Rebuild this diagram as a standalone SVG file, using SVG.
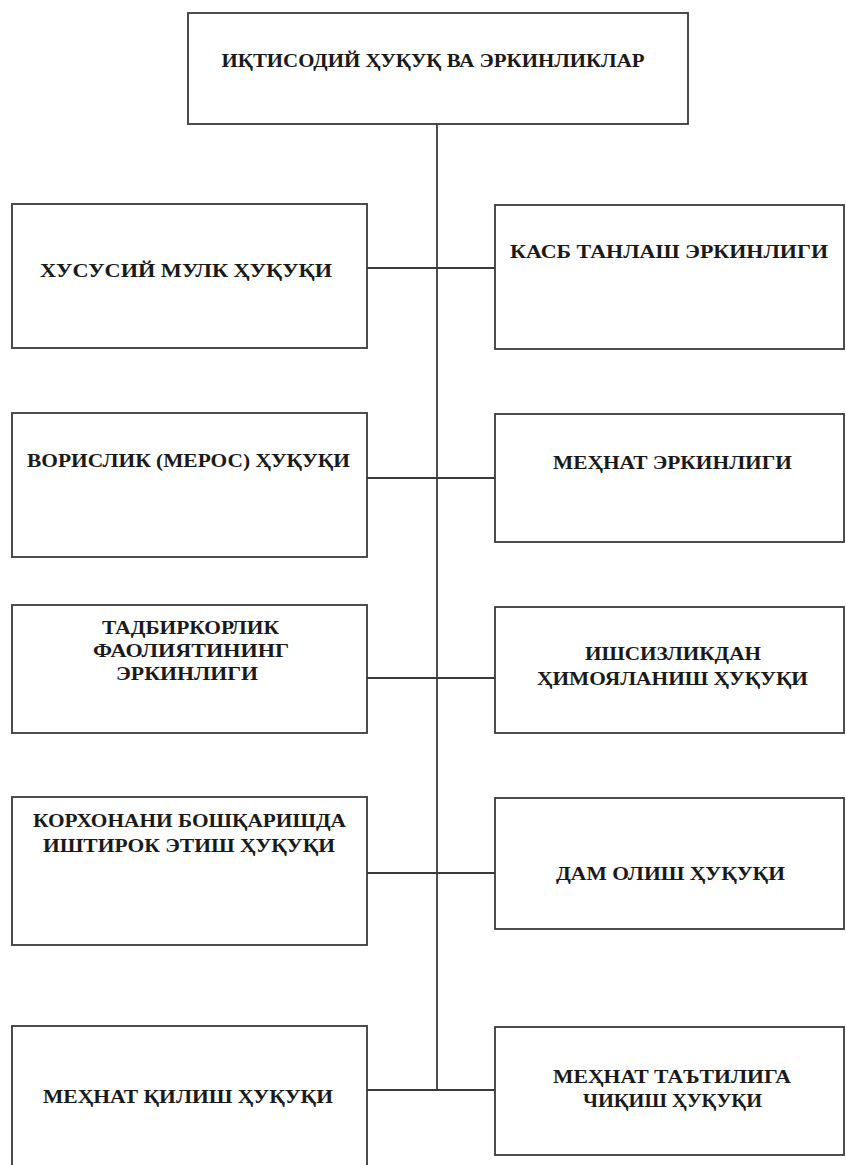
<svg xmlns="http://www.w3.org/2000/svg" width="846" height="1165" viewBox="0 0 846 1165">
<style>
.box{fill:#fff;stroke:#3a3a3a;stroke-width:1.8}
.ln{stroke:#3a3a3a;stroke-width:1.8;fill:none}
.t{font-family:"Liberation Serif","Times New Roman",serif;font-weight:bold;font-size:19px;fill:#1a1a1a;text-anchor:middle}
</style>
<rect width="846" height="1165" fill="#fff"/>
<g id="connectors">
<line class="ln" x1="437" y1="124" x2="437" y2="1090"/>
<line class="ln" x1="367" y1="268" x2="495" y2="268"/>
<line class="ln" x1="367" y1="478" x2="495" y2="478"/>
<line class="ln" x1="367" y1="678" x2="495" y2="678"/>
<line class="ln" x1="367" y1="873" x2="495" y2="873"/>
<line class="ln" x1="367" y1="1090" x2="495" y2="1090"/>
</g>
<g id="root">
<rect class="box" x="188" y="13" width="500" height="111"/>
<text class="t" x="433" y="67" textLength="423" lengthAdjust="spacingAndGlyphs">ИҚТИСОДИЙ ҲУҚУҚ ВА ЭРКИНЛИКЛАР</text>
</g>
<g id="n-l1">
<rect class="box" x="12" y="204" width="355" height="144"/>
<text class="t" x="186" y="277" textLength="292" lengthAdjust="spacingAndGlyphs">ХУСУСИЙ  МУЛК ҲУҚУҚИ</text>
</g>
<g id="n-r1">
<rect class="box" x="495" y="205" width="349" height="144"/>
<text class="t" x="669" y="258" textLength="318" lengthAdjust="spacingAndGlyphs">КАСБ ТАНЛАШ ЭРКИНЛИГИ</text>
</g>
<g id="n-l2">
<rect class="box" x="12" y="413" width="355" height="144"/>
<text class="t" x="188.5" y="467" textLength="323" lengthAdjust="spacingAndGlyphs">ВОРИСЛИК (МЕРОС) ҲУҚУҚИ</text>
</g>
<g id="n-r2">
<rect class="box" x="495" y="414" width="349" height="128"/>
<text class="t" x="672.5" y="469" textLength="239" lengthAdjust="spacingAndGlyphs">МЕҲНАТ ЭРКИНЛИГИ</text>
</g>
<g id="n-l3">
<rect class="box" x="12" y="605" width="355" height="128"/>
<text class="t" x="190.5" y="634" textLength="177" lengthAdjust="spacingAndGlyphs">ТАДБИРКОРЛИК</text>
<text class="t" x="191" y="657" textLength="196" lengthAdjust="spacingAndGlyphs">ФАОЛИЯТИНИНГ</text>
<text class="t" x="187" y="680" textLength="142" lengthAdjust="spacingAndGlyphs">ЭРКИНЛИГИ</text>
</g>
<g id="n-r3">
<rect class="box" x="495" y="607" width="349" height="126"/>
<text class="t" x="673" y="660" textLength="176" lengthAdjust="spacingAndGlyphs">ИШСИЗЛИКДАН</text>
<text class="t" x="672.5" y="685" textLength="271" lengthAdjust="spacingAndGlyphs">ҲИМОЯЛАНИШ ҲУҚУҚИ</text>
</g>
<g id="n-l4">
<rect class="box" x="12" y="797" width="355" height="148"/>
<text class="t" x="189.5" y="827" textLength="313" lengthAdjust="spacingAndGlyphs">КОРХОНАНИ БОШҚАРИШДА</text>
<text class="t" x="189" y="852" textLength="292" lengthAdjust="spacingAndGlyphs">ИШТИРОК ЭТИШ ҲУҚУҚИ</text>
</g>
<g id="n-r4">
<rect class="box" x="495" y="798" width="349" height="131"/>
<text class="t" x="670.5" y="880" textLength="229" lengthAdjust="spacingAndGlyphs">ДАМ ОЛИШ ҲУҚУҚИ</text>
</g>
<g id="n-l5">
<rect class="box" x="12" y="1026" width="355" height="150"/>
<text class="t" x="188" y="1103" textLength="290" lengthAdjust="spacingAndGlyphs">МЕҲНАТ ҚИЛИШ ҲУҚУҚИ</text>
</g>
<g id="n-r5">
<rect class="box" x="495" y="1027" width="349" height="128"/>
<text class="t" x="672" y="1083" textLength="238" lengthAdjust="spacingAndGlyphs">МЕҲНАТ ТАЪТИЛИГА</text>
<text class="t" x="672.5" y="1107" textLength="179" lengthAdjust="spacingAndGlyphs">ЧИҚИШ ҲУҚУҚИ</text>
</g>
</svg>
